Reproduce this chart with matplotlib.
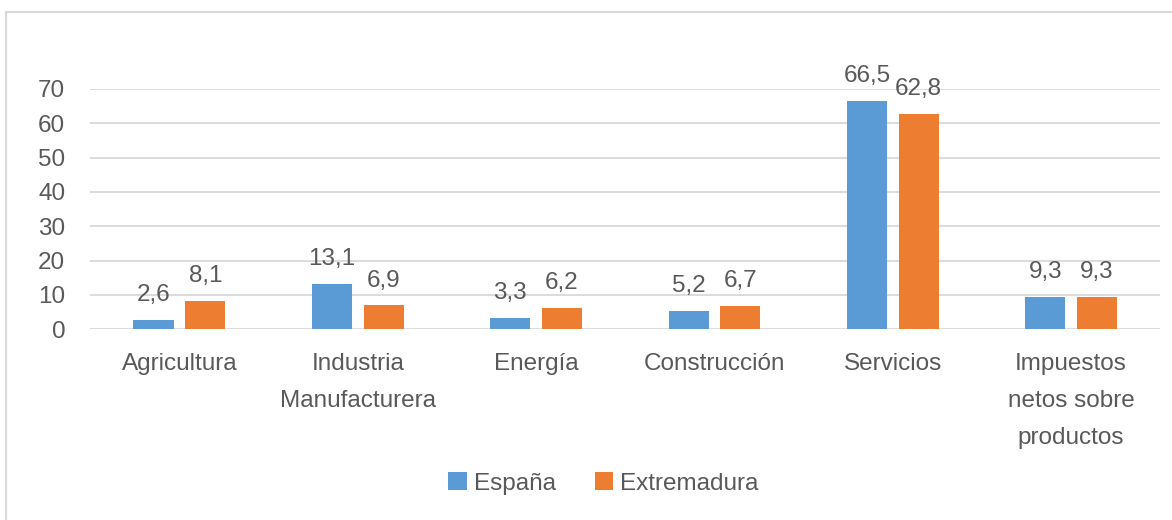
import matplotlib.pyplot as plt
from matplotlib.patches import Rectangle
import numpy as np

# sector shares of GVA (%), Spain vs Extremadura
sectores = ['Agricultura', 'Industria\nManufacturera', 'Energía',
            'Construcción', 'Servicios', 'Impuestos\nnetos sobre\nproductos']
espana = [2.6, 13.1, 3.3, 5.2, 66.5, 9.3]
extremadura = [8.1, 6.9, 6.2, 6.7, 62.8, 9.3]
yticks = [0, 10, 20, 30, 40, 50, 60, 70]

azul = '#5b9bd5'
naranja = '#ed7d31'
gris = '#595959'
fs = 17.5

plt.rcParams['font.family'] = ['Liberation Sans', 'DejaVu Sans']

fig = plt.figure(figsize=(11.72, 5.2), dpi=100)
ax = fig.add_axes([0.077, 0.367, 0.913, 0.462])

x = np.arange(len(sectores))
w = 0.225
off = 0.145
b1 = ax.bar(x - off, espana, w, color=azul, label='España')
b2 = ax.bar(x + off, extremadura, w, color=naranja, label='Extremadura')

for bars, vals in ((b1, espana), (b2, extremadura)):
    for r, v in zip(bars, vals):
        ax.annotate(('%.1f' % v).replace('.', ','),
                    (r.get_x() + r.get_width() / 2, r.get_height()),
                    xytext=(0, 10), textcoords='offset points',
                    ha='center', va='bottom', fontsize=fs, color=gris,
                    annotation_clip=False)

ax.set_xlim(-0.5, len(sectores) - 0.5)
ax.set_ylim(0, 70)
ax.set_yticks(yticks)
ax.yaxis.grid(True, color='#d9d9d9', lw=1.3)
ax.set_axisbelow(True)
for s in ax.spines.values():
    s.set_visible(False)
ax.tick_params(axis='both', length=0, labelsize=fs, colors=gris)
ax.tick_params(axis='y', pad=18)
ax.set_xticks(x)
ax.set_xticklabels(sectores, linespacing=1.9, va='top')
ax.tick_params(axis='x', pad=17)

leg = fig.legend(loc='center', bbox_to_anchor=(0.515, 0.07), ncol=2,
                 frameon=False, fontsize=fs, handlelength=0.75,
                 handleheight=0.75, handletextpad=0.3, columnspacing=1.6,
                 labelcolor=gris)

fig.patches.append(Rectangle((0.005, -0.01), 1.2, 0.987, transform=fig.transFigure,
                             fill=False, edgecolor='#d9d9d9', lw=1.5))

fig.savefig('out.png', dpi=100)
